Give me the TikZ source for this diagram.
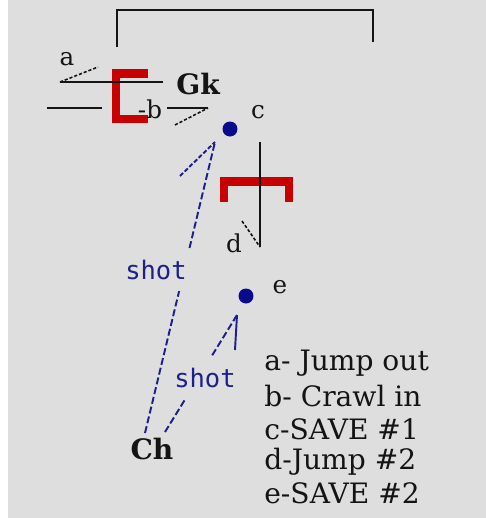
\documentclass[tikz,border=0pt]{standalone}
\usepackage{fontspec}
\usepackage{xcolor}
\usepackage{tikz}
\usetikzlibrary{positioning, calc}
\setmainfont{DejaVu Serif}
\newfontfamily\shotfont{DejaVu Sans Mono}
\definecolor{bggray}{RGB}{222,222,222}
\definecolor{brred}{RGB}{200,0,0}
\definecolor{shotblue}{RGB}{30,30,140}
\definecolor{dotblue}{RGB}{10,10,140}
\definecolor{inkdark}{RGB}{20,20,20}
\tikzset{
  line/.style={line width=1.1pt,color=inkdark},
  barb/.style={line width=0.9pt,color=inkdark,dash pattern=on 1.8pt off 1.1pt},
  bracket/.style={line width=4.6pt,color=brred,miter limit=10},
  frame/.style={line width=1.5pt,color=inkdark},
  shot/.style={line width=1.1pt,color=shotblue,dash pattern=on 4pt off 1.7pt},
  shotbarb/.style={line width=1.1pt,color=shotblue,dash pattern=on 2.5pt off 1.2pt},
  dot/.style={circle,fill=dotblue,inner sep=0pt,minimum size=0.3cm},
  lbl/.style={font=\fontsize{14}{16}\selectfont,color=inkdark,inner sep=0pt},
  player/.style={font=\fontsize{16}{18}\selectfont\bfseries,color=inkdark,inner sep=0pt},
  shotlbl/.style={font=\shotfont\fontsize{14.5}{16}\selectfont,color=shotblue,fill=bggray,
    inner xsep=2pt,inner ysep=6.5pt},
  legend/.style={font=\fontsize{16}{18}\selectfont,color=inkdark,anchor=west,inner sep=0pt}
}

\begin{document}
\begin{tikzpicture}[x=0.02cm,y=-0.02cm]
  % ── Canvas ────────────────────────────────────────────────────────────────
  \useasboundingbox (0,0) rectangle (486,518);
  \fill[white] (0,0) rectangle (486,518);
  \fill[bggray] (8,0) rectangle (486,518);

  % ── Goal frame ────────────────────────────────────────────────────────────
  \draw[frame] (117,47) -- (117,10) -- (373,10) -- (373,42);

  % ── Keeper position (red brackets) ──────────────────────────────────────
  \draw[bracket] (148,73.5) -- (116,73.5) -- (116,119) -- (148,119);
  \draw[bracket] (224,202) -- (224,181.5) -- (289,181.5) -- (289,202);

  % ── Moves a / b ──────────────────────────────────────────────────────────
  \coordinate (aL) at (60,82);
  \coordinate (aR) at (163,82);
  \coordinate (aB) at (98,67);
  \draw[line] (aR) -- (aL);
  \draw[barb] (aL) -- (aB);

  \coordinate (bL) at (47,108);
  \coordinate (bM) at (102,108);
  \coordinate (bN) at (167,108);
  \coordinate (bR) at (208,108);
  \coordinate (bB) at (175,125);
  \draw[line] (bL) -- (bM);
  \draw[line] (bN) -- (bR);
  \draw[barb] (bB) -- (bR);

  % ── Labels near the goal ─────────────────────────────────────────────────
  \node[lbl] (a) at (67,59) {a};
  \node[lbl] (b) at (150,109) {-b};
  \node[player] (gk) at (198,84) {Gk};

  % ── Save #1 and jump d ───────────────────────────────────────────────────
  \node[dot] (c) at (230,129) {};
  \node[lbl] (clbl) at (258,112) {c};

  \coordinate (dT) at (260,142);
  \coordinate (dE) at (260,247);
  \coordinate (dB) at (242,221);
  \draw[line] (dT) -- (dE);
  \draw[barb] (dB) -- (dE);
  \node[lbl] (d) at (234,243) {d};

  % ── Save #2 ──────────────────────────────────────────────────────────────
  \node[dot] (e) at (246,296) {};
  \node[lbl] (elbl) at (280,287) {e};

  % ── Shooter and shots ────────────────────────────────────────────────────
  \node[player] (ch) at (152,449) {Ch};
  \coordinate (ch1) at (145,433);
  \coordinate (ch2) at (165,432);
  \coordinate (cTip) at (215,142);
  \coordinate (cBarb) at (180,176);
  \coordinate (eTip) at (237,315);
  \coordinate (eBarb) at (235,350);

  \draw[shot] (ch1) -- (cTip);
  \draw[shotbarb] (cBarb) -- (cTip);
  \draw[shot] (ch2) -- (eTip);
  \draw[line,color=shotblue] (eBarb) -- (eTip);

  \node[shotlbl] (s1) at (156,270) {shot};
  \node[shotlbl] (s2) at (205,378) {shot};

  % ── Legend ───────────────────────────────────────────────────────────────
  \node[legend] (la) at (264,363) {a- Jump out};
  \node[legend] (lb) at (264,396) {b- Crawl in};
  \node[legend] (lc) at (264,429) {c-SAVE \#1};
  \node[legend] (ld) at (264,462) {d-Jump \#2};
  \node[legend] (le) at (264,493) {e-SAVE \#2};
\end{tikzpicture}
\end{document}
